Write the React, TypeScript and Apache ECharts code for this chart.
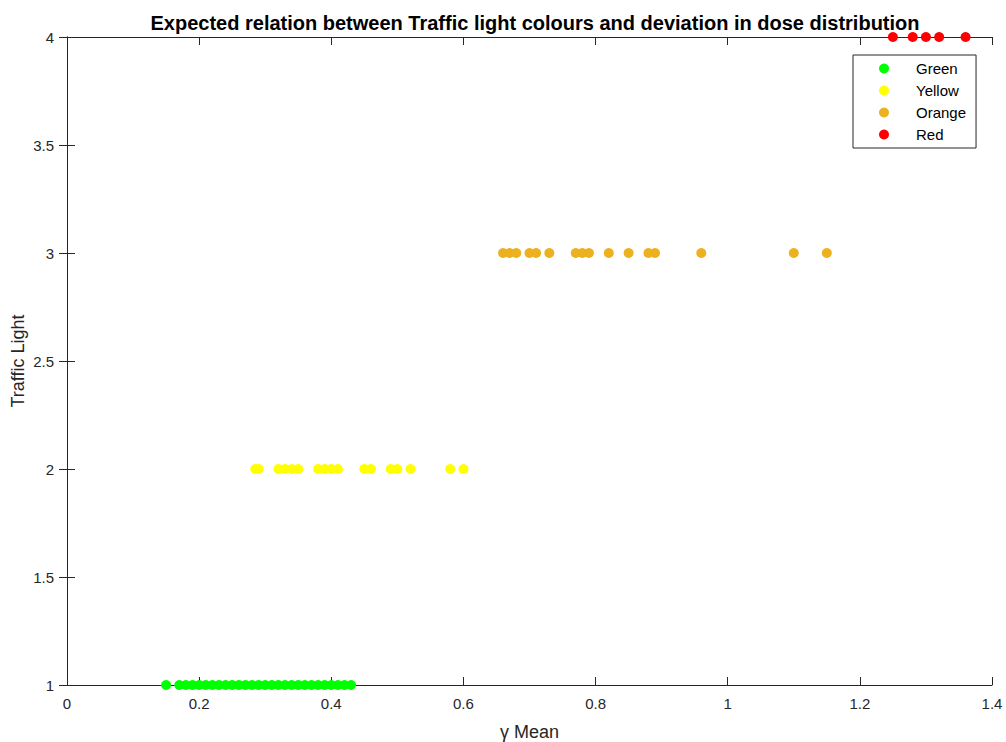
import React, { useEffect, useRef } from "react";
import * as echarts from "echarts";

const titleText = "Expected relation between Traffic light colours and deviation in dose distribution";
const xName = "γ Mean";
const yName = "Traffic Light";

const greenX = [0.15, 0.17, 0.18, 0.19, 0.2, 0.21, 0.22, 0.23, 0.24, 0.25, 0.26, 0.27, 0.28, 0.29, 0.3, 0.31, 0.32, 0.33, 0.34, 0.35, 0.36, 0.37, 0.38, 0.39, 0.4, 0.41, 0.42, 0.43];
const yellowX = [0.285, 0.29, 0.32, 0.33, 0.34, 0.35, 0.38, 0.39, 0.4, 0.41, 0.45, 0.46, 0.49, 0.5, 0.52, 0.58, 0.6];
const orangeX = [0.66, 0.67, 0.68, 0.7, 0.71, 0.73, 0.77, 0.78, 0.79, 0.82, 0.85, 0.88, 0.89, 0.96, 1.1, 1.15];
const redX = [1.25, 1.28, 1.3, 1.32, 1.36];

const levels = [1, 2, 3, 4];
const seriesNames = ["Green", "Yellow", "Orange", "Red"];
const seriesColors = ["#00FF00", "#FFFF00", "#EDB120", "#FF0000"];
const seriesX = [greenX, yellowX, orangeX, redX];

const xMin = 0, xMax = 1.4, xStep = 0.2;
const yMin = 1, yMax = 4, yStep = 0.5;

const FONT = "'Liberation Sans', Arial, sans-serif";
const AX = "#262626";

export default function App() {
  const ref = useRef<HTMLDivElement>(null);
  useEffect(() => {
    if (!ref.current) return;
    const chart = echarts.init(ref.current, undefined, { renderer: "svg" });
    const axisCommon = {
      axisLine: { show: true, lineStyle: { color: AX, width: 1 } },
      axisTick: { show: true, inside: true, length: 8, lineStyle: { color: AX } },
      splitLine: { show: false },
    };
    chart.setOption({
      animation: false,
      backgroundColor: "#fff",
      textStyle: { fontFamily: FONT },
      title: {
        text: titleText,
        left: 530,
        textAlign: "center",
        top: 8,
        textStyle: { fontFamily: FONT, fontSize: 20, fontWeight: "bold", color: "#000" },
      },
      grid: {
        left: 67,
        top: 37,
        width: 925,
        height: 648,
        containLabel: false,
        outerBoundsMode: "none",
      },
      legend: {
        orient: "vertical",
        left: 853,
        top: 55,
        backgroundColor: "#fff",
        borderColor: AX,
        borderWidth: 1,
        borderRadius: 0,
        padding: [6, 10, 6, 26],
        itemWidth: 54,
        itemHeight: 10,
        itemGap: 7,
        icon: "circle",
        textStyle: { fontFamily: FONT, fontSize: 15, color: "#000" },
        data: seriesNames,
      },
      xAxis: [
        {
          type: "value",
          min: xMin,
          max: xMax,
          interval: xStep,
          name: xName,
          nameLocation: "middle",
          nameGap: 38,
          nameMoveOverlap: false,
          nameTextStyle: { fontFamily: FONT, fontSize: 18, color: AX },
          axisLabel: { fontFamily: FONT, fontSize: 15, color: AX, margin: 11 },
          ...axisCommon,
        },
        {
          type: "value",
          position: "top",
          min: xMin,
          max: xMax,
          interval: xStep,
          axisLabel: { show: false },
          ...axisCommon,
        },
      ],
      yAxis: [
        {
          type: "value",
          min: yMin,
          max: yMax,
          interval: yStep,
          name: yName,
          nameLocation: "middle",
          nameGap: 40,
          nameMoveOverlap: false,
          nameTextStyle: { fontFamily: FONT, fontSize: 18, color: AX },
          axisLabel: { fontFamily: FONT, fontSize: 15, color: AX, margin: 13 },
          ...axisCommon,
        },
        {
          type: "value",
          position: "right",
          min: yMin,
          max: yMax,
          interval: yStep,
          axisLabel: { show: false },
          ...axisCommon,
        },
      ],
      series: seriesNames.map((name, i) => ({
        name,
        type: "scatter",
        symbol: "circle",
        symbolSize: 10,
        itemStyle: { color: seriesColors[i], opacity: 1 },
        data: seriesX[i].map((x) => [x, levels[i]]),
        clip: false,
      })),
    });
    return () => chart.dispose();
  }, []);
  return (
    <div
      ref={ref}
      style={{ position: "absolute", left: 0, top: 0, width: 1006, height: 742 }}
    />
  );
}
